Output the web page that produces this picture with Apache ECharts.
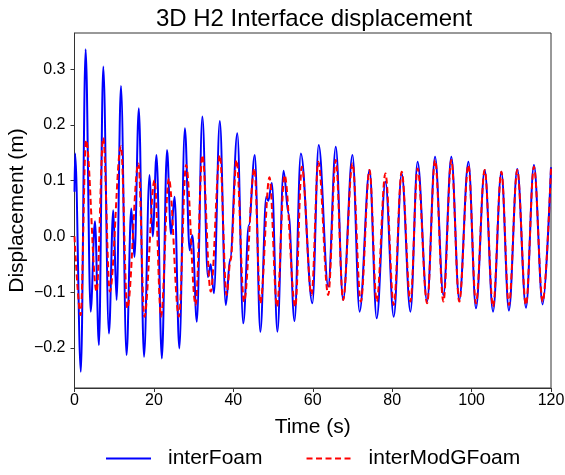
<!DOCTYPE html>
<html>
<head>
<meta charset="utf-8">
<script src="https://cdn.jsdelivr.net/npm/echarts@6/dist/echarts.min.js"></script>
<style>
html,body{margin:0;padding:0;background:#fff;}
#chart{width:565px;height:475px;}
</style>
</head>
<body>
<div id="chart"></div>
<script>
// interFoam (blue, solid): turning points
var blueTime = [0, 0.15, 1.6, 2.8, 4.07, 5.15, 6.16, 7.24, 8.67, 9.76, 10.6, 11.7, 13.1, 14.3, 15.1, 16.2, 17.5, 18.9, 19.7, 20.65, 22.0, 23.3, 24.3, 25.2, 26.4, 27.8, 29.0, 29.7, 30.8, 32.2, 33.6, 34.3, 35.1, 36.6, 38.1, 39.2, 41.0, 42.5, 43.9, 45.4, 46.8, 48.3, 48.8, 49.7, 51.1, 52.65, 53.9, 55.4, 57.0, 59.9, 61.5, 63.9, 65.8, 67.65, 70.0, 71.8, 74.3, 76.1, 78.3, 80.4, 82.4, 84.6, 86.4, 88.8, 90.8, 92.9, 94.9, 96.9, 99.2, 101.1, 103.3, 105.4, 107.5, 109.4, 111.5, 113.7, 115.7, 117.9, 120];
var blueValue = [0.08, 0.149, -0.243, 0.336, -0.135, 0.027, -0.195, 0.305, -0.174, 0.047, -0.114, 0.270, -0.213, 0.050, -0.037, 0.230, -0.216, 0.110, 0.0, 0.146, -0.219, 0.155, 0.004, 0.071, -0.201, 0.194, -0.025, 0.002, -0.153, 0.215, -0.073, -0.050, -0.102, 0.207, -0.123, -0.040, 0.185, -0.156, 0.020, 0.146, -0.171, 0.071, 0.064, 0.096, -0.171, 0.118, 0.041, -0.152, 0.149, -0.120, 0.164, -0.090, 0.161, -0.114, 0.146, -0.135, 0.119, -0.147, 0.098, -0.144, 0.113, -0.135, 0.134, -0.117, 0.143, -0.105, 0.143, -0.114, 0.134, -0.129, 0.119, -0.135, 0.116, -0.133, 0.121, -0.128, 0.128, -0.122, 0.124];

// interModGFoam (red, dashed)
var redTime = [0, 1.55, 2.9, 5.57, 7.24, 8.9, 11.7, 13.3, 16.1, 17.6, 20.15, 21.8, 23.75, 26.3, 28.1, 30.5, 32.2, 34.3, 36.6, 38.3, 39.3, 40.8, 42.7, 45.3, 46.8, 49.1, 51.0, 52.9, 55.6, 57.25, 59.7, 61.4, 63.9, 65.8, 67.65, 70.0, 72.1, 74.3, 76.1, 78.3, 80.4, 82.4, 84.6, 86.4, 88.8, 90.8, 92.9, 94.9, 96.9, 99.2, 101.1, 103.3, 105.4, 107.5, 109.4, 111.5, 113.7, 115.7, 117.9, 120];
var redValue = [0.0, -0.141, 0.173, -0.099, 0.177, -0.099, 0.162, -0.129, 0.131, -0.144, 0.101, -0.144, 0.104, -0.144, 0.128, -0.123, 0.146, -0.099, 0.146, -0.105, -0.043, 0.137, -0.117, 0.122, -0.120, 0.106, -0.126, 0.110, -0.126, 0.125, -0.105, 0.134, -0.105, 0.137, -0.114, 0.131, -0.117, 0.119, -0.117, 0.113, -0.123, 0.116, -0.117, 0.122, -0.120, 0.137, -0.117, 0.137, -0.117, 0.128, -0.120, 0.119, -0.126, 0.116, -0.123, 0.119, -0.123, 0.125, -0.117, 0.122];

var xTicks = [0, 20, 40, 60, 80, 100, 120];
var yTicks = [-0.2, -0.1, 0.0, 0.1, 0.2, 0.3];

var seriesNames = ['interFoam', 'interModGFoam'];

function pairs(t, v) { return t.map(function (x, i) { return [x, v[i]]; }); }

var FONT = '"Liberation Sans", Arial, sans-serif';
var chart = echarts.init(document.getElementById('chart'), null, { renderer: 'canvas' });
chart.setOption({
  animation: false,
  backgroundColor: '#ffffff',
  title: {
    text: '3D H2 Interface displacement',
    left: 309, top: 2, textAlign: 'center',
    textStyle: { fontFamily: FONT, fontSize: 24, fontWeight: 'normal', color: '#000' }
  },
  grid: {
    left: 74.5, right: 14, top: 33, bottom: 87,
    outerBoundsMode: 'none', containLabel: false,
    show: true, borderColor: '#333', borderWidth: 1, backgroundColor: 'transparent'
  },
  legend: {
    left: 100, top: 443,
    itemWidth: 45, itemHeight: 14, itemGap: 43,
    itemStyle: { opacity: 0, color: 'transparent', borderWidth: 0 },
    textStyle: { fontFamily: FONT, fontSize: 21, color: '#000', padding: [0, 0, 0, 12] },
    data: seriesNames
  },
  xAxis: {
    type: 'value', min: xTicks[0], max: xTicks[xTicks.length - 1], interval: 20,
    name: 'Time (s)', nameLocation: 'middle', nameGap: 29, nameMoveOverlap: false,
    nameTextStyle: { fontFamily: FONT, fontSize: 21, color: '#000' },
    axisLine: { show: true, onZero: false, lineStyle: { color: '#333', width: 1 } },
    axisTick: { show: true, inside: false, length: 4, lineStyle: { color: '#333' } },
    axisLabel: { fontFamily: FONT, fontSize: 16, color: '#000', margin: 5 },
    splitLine: { show: false }
  },
  yAxis: {
    type: 'value', min: -0.272, max: 0.365,
    name: 'Displacement (m)', nameLocation: 'middle', nameGap: 47, nameRotate: 90, nameMoveOverlap: false,
    nameTextStyle: { fontFamily: FONT, fontSize: 21, color: '#000' },
    axisLine: { show: true, onZero: false, lineStyle: { color: '#333', width: 1 } },
    axisTick: { show: true, inside: false, length: 4, customValues: yTicks, lineStyle: { color: '#333' } },
    axisLabel: {
      fontFamily: FONT, fontSize: 16, color: '#000', margin: 9, customValues: yTicks,
      formatter: function (v) { return v.toFixed(1).replace('-', '\u2212'); }
    },
    splitLine: { show: false }
  },
  series: [
    {
      name: seriesNames[0], type: 'line', data: pairs(blueTime, blueValue),
      showSymbol: false, symbol: 'none', smooth: 0.36, smoothMonotone: 'x',
      lineStyle: { color: '#0000ff', width: 2 }, itemStyle: { color: '#0000ff' }, z: 2
    },
    {
      name: seriesNames[1], type: 'line', data: pairs(redTime, redValue),
      showSymbol: false, symbol: 'none', smooth: 0.36, smoothMonotone: 'x',
      lineStyle: { color: '#ff0000', width: 2, type: [6, 3.5] }, itemStyle: { color: '#ff0000' }, z: 3
    }
  ]
});
</script>
</body>
</html>
